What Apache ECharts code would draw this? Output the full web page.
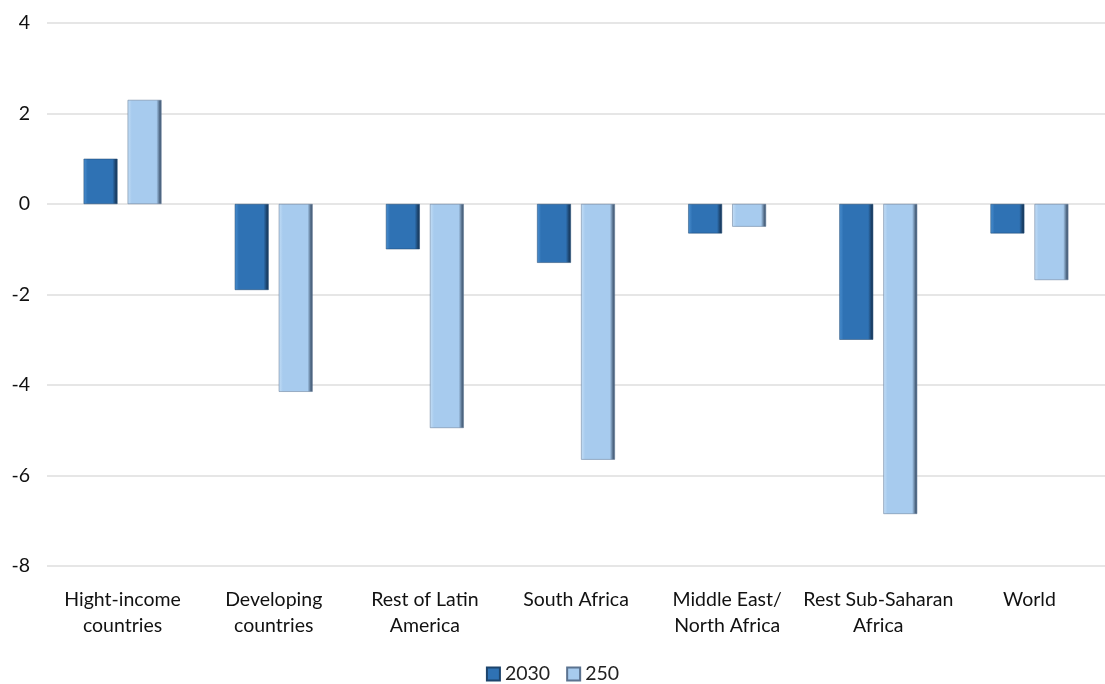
<!DOCTYPE html>
<html><head><meta charset="utf-8">
<script src="https://cdn.jsdelivr.net/npm/echarts@6/dist/echarts.min.js"></script>
<style>html,body{margin:0;padding:0;background:#fff}#c{width:1105px;height:684px}</style>
</head><body><div id="c"></div>
<script>
const categories = ['Hight-income\ncountries','Developing\ncountries','Rest of Latin\nAmerica','South Africa','Middle East/\nNorth Africa','Rest Sub-Saharan\nAfrica','World'];
const series2030 = [1.0, -1.9, -1.0, -1.3, -0.65, -3.0, -0.65];
const series250 = [2.3, -4.15, -4.95, -5.65, -0.5, -6.85, -1.68];
const yTicks = { min: -8, max: 4, interval: 2 };

function bevel(base, light, dark){
  return new echarts.graphic.LinearGradient(0,0,1,0,[
    {offset:0, color: light},{offset:0.12, color: base},{offset:0.85, color: base},{offset:0.95, color: dark},{offset:1, color: dark}
  ]);
}
const c1 = bevel('#2f72b4','#4a8fd0','#1a3f66');
const c2 = bevel('#a7cbee','#c4def6','#4d6580');
const font = 'Lato, "Open Sans", sans-serif';
const chart = echarts.init(document.getElementById('c'));
chart.setOption({
  animation:false,
  textStyle:{fontFamily:font},
  grid:{left:47,right:0,top:23,bottom:118},
  legend:{top:664,left:'center',padding:0,icon:'rect',itemWidth:13,itemHeight:13,itemGap:16,
    textStyle:{fontSize:19.5,color:'#222',fontFamily:font},
    data:[{name:'2030',itemStyle:{color:c1}},{name:'250',itemStyle:{color:c2}}]},
  xAxis:{type:'category',data:categories,axisLine:{show:false},axisTick:{show:false},
    axisLabel:{fontSize:19.5,color:'#111',lineHeight:26,margin:21,interval:0,fontFamily:font}},
  yAxis:{type:'value',min:yTicks.min,max:yTicks.max,interval:yTicks.interval,
    splitLine:{lineStyle:{color:'#dedede',width:1.5}},
    axisLabel:{fontSize:19.5,color:'#111',margin:17,fontFamily:font}},
  series:[
    {name:'2030',type:'bar',data:series2030,barWidth:'22.4%',barGap:'30%',
      itemStyle:{color:c1,borderColor:'#1d446c',borderWidth:0.5}},
    {name:'250',type:'bar',data:series250,barWidth:'22.4%',
      itemStyle:{color:c2,borderColor:'#5b7390',borderWidth:0.5}}
  ]
});
</script></body></html>
